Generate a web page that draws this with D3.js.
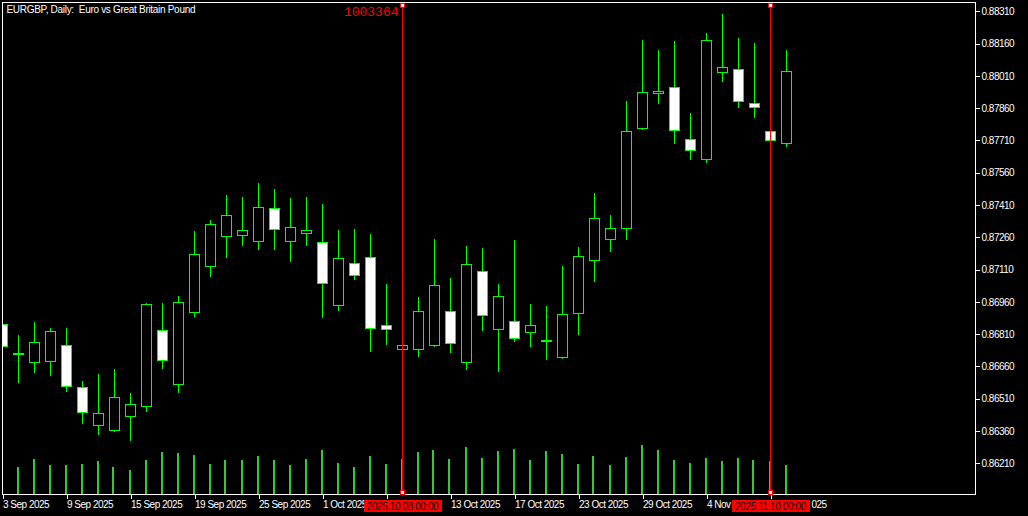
<!DOCTYPE html>
<html>
<head>
<meta charset="utf-8">
<script src="https://cdn.jsdelivr.net/npm/d3@7"></script>
<style>
  html, body { margin: 0; padding: 0; background: #000; }
  svg { display: block; }
  text { font-family: "Liberation Sans", Arial, sans-serif; }
</style>
</head>
<body>
<svg id="chart" width="1028" height="516"></svg>
<script>
// ---------- DATA ----------
const titleText = "EURGBP, Daily:  Euro vs Great Britain Pound";

const dates = [
  "2025.09.03","2025.09.04","2025.09.05","2025.09.08","2025.09.09","2025.09.10","2025.09.11","2025.09.12",
  "2025.09.15","2025.09.16","2025.09.17","2025.09.18","2025.09.19","2025.09.22","2025.09.23","2025.09.24",
  "2025.09.25","2025.09.26","2025.09.29","2025.09.30","2025.10.01","2025.10.02","2025.10.03","2025.10.06",
  "2025.10.07","2025.10.08","2025.10.09","2025.10.10","2025.10.13","2025.10.14","2025.10.15","2025.10.16",
  "2025.10.17","2025.10.20","2025.10.21","2025.10.22","2025.10.23","2025.10.24","2025.10.27","2025.10.28",
  "2025.10.29","2025.10.30","2025.10.31","2025.11.03","2025.11.04","2025.11.05","2025.11.06","2025.11.07",
  "2025.11.10","2025.11.11"
];

const opens  = [0.86856,0.86719,0.86678,0.86682,0.86758,0.86563,0.86387,0.86364,0.86429,0.86475,
                0.86828,0.86577,0.86912,0.87124,0.87263,0.87269,0.87242,0.87395,0.87242,0.87279,
                0.87237,0.86944,0.87139,0.87167,0.86851,0.86740,0.86740,0.86758,0.86916,0.86679,
                0.87102,0.86833,0.86870,0.86819,0.86782,0.86703,0.86907,0.87153,0.87251,0.87302,
                0.87767,0.87929,0.87957,0.87715,0.87623,0.88027,0.88041,0.87883,0.87753,0.87697];
const highs  = [0.86867,0.86806,0.86867,0.86839,0.86839,0.86591,0.86625,0.86648,0.86537,0.86954,
                0.86955,0.86987,0.87289,0.87341,0.87457,0.87447,0.87512,0.87485,0.87443,0.87447,
                0.87415,0.87294,0.87299,0.87276,0.87043,0.86760,0.86983,0.87251,0.87071,0.87220,
                0.87210,0.87043,0.87248,0.86950,0.86941,0.87127,0.87215,0.87466,0.87364,0.87893,
                0.88177,0.88130,0.88172,0.87838,0.88209,0.88298,0.88186,0.88163,0.87758,0.88130];
const lows   = [0.86741,0.86589,0.86636,0.86622,0.86547,0.86399,0.86348,0.86362,0.86320,0.86452,
                0.86654,0.86543,0.86896,0.87082,0.87170,0.87226,0.87207,0.87207,0.87151,0.87226,
                0.86891,0.86924,0.87068,0.86733,0.86766,0.86738,0.86710,0.86756,0.86729,0.86650,
                0.86831,0.86640,0.86780,0.86757,0.86696,0.86701,0.86812,0.87059,0.87198,0.87254,
                0.87765,0.87886,0.87700,0.87625,0.87611,0.87988,0.87867,0.87820,0.87705,0.87683];
const closes = [0.86754,0.86717,0.86772,0.86823,0.86568,0.86447,0.86442,0.86517,0.86484,0.86949,
                0.86689,0.86958,0.87181,0.87321,0.87362,0.87293,0.87400,0.87297,0.87307,0.87293,
                0.87046,0.87163,0.87084,0.86837,0.86833,0.86758,0.86916,0.87037,0.86768,0.87135,
                0.86898,0.86986,0.86791,0.86851,0.86782,0.86902,0.87172,0.87348,0.87302,0.87753,
                0.87934,0.87938,0.87755,0.87664,0.88175,0.88050,0.87892,0.87864,0.87711,0.88031];
const volumes = [30000,28000,36000,29000,30000,31000,33000,28000,25000,34000,
                 43000,42000,40000,31000,35000,35000,39000,34000,30000,36000,
                 45000,32000,28000,39000,31000,36000,43000,45000,36000,48000,
                 37000,44000,46000,34000,44000,41000,31000,39000,30000,38000,
                 50000,45000,35000,32000,37000,33000,37000,35000,33000,29000];

const priceTicks = [0.88310,0.88160,0.88010,0.87860,0.87710,0.87560,0.87410,0.87260,
                    0.87110,0.86960,0.86810,0.86660,0.86510,0.86360,0.86210];
const timeTickIdx = [0,4,8,12,16,20,24,28,32,36,40,44,48];
const timeTickLabels = ["3 Sep 2025","9 Sep 2025","15 Sep 2025","19 Sep 2025","25 Sep 2025",
                        "1 Oct 2025","7 Oct 2025","13 Oct 2025","17 Oct 2025","23 Oct 2025",
                        "29 Oct 2025","4 Nov 2025","10 Nov 2025"];
const markerIdx = [25, 48];
const markerLabels = ["2025.10.08 00:00","2025.11.10 00:00"];
const markerTopText = "1003364";

// ---------- LAYOUT ----------
const W = 1028, H = 516;
const frame = {left: 2.5, top: 2.5, right: 975.5, bottom: 494.5};
const svg = d3.select("#chart");
svg.append("rect").attr("width", W).attr("height", H).attr("fill", "#000");

const x = d3.scaleLinear().domain([0, 49]).range([2.5, 786.5]);
const y = d3.scaleLinear().domain([0.86210, 0.88310]).range([463.33, 11.33]);
const yVol = d3.scaleLinear().domain([0, 100000]).range([494.5, 394.5]);
const snap = v => Math.round(v - 0.5) + 0.5;

const candles = dates.map((d, i) => ({i, d, o: opens[i], h: highs[i], l: lows[i], c: closes[i], v: volumes[i]}));

const defs = svg.append("defs");
defs.append("clipPath").attr("id", "plotclip")
  .append("rect").attr("x", frame.left).attr("y", frame.top)
  .attr("width", frame.right - frame.left).attr("height", frame.bottom - frame.top);

const boxW = 78, boxY = 500, boxH = 12;
const boxXs = markerIdx.map(mi => Math.round(x(mi)) - boxW / 2);

const plot = svg.append("g").attr("clip-path", "url(#plotclip)").attr("shape-rendering", "crispEdges");

// volumes
plot.append("g").selectAll("rect").data(candles).join("rect")
  .attr("x", d => Math.round(x(d.i)) - 2)
  .attr("width", 2)
  .attr("y", d => Math.round(yVol(d.v)))
  .attr("height", d => Math.round(yVol(0)) - Math.round(yVol(d.v)))
  .attr("fill", "#32CD32");

// wicks
plot.append("g").selectAll("line").data(candles).join("line")
  .attr("x1", d => x(d.i)).attr("x2", d => x(d.i))
  .attr("y1", d => Math.round(y(d.h))).attr("y2", d => Math.round(y(d.l)) + 1)
  .attr("stroke", "#00FF00").attr("stroke-width", 1);

// bodies
plot.append("g").selectAll("rect").data(candles).join("rect")
  .attr("x", d => x(d.i) - 5)
  .attr("width", 10)
  .attr("y", d => snap(y(Math.max(d.o, d.c))))
  .attr("height", d => Math.max(1, snap(y(Math.min(d.o, d.c))) - snap(y(Math.max(d.o, d.c)))))
  .attr("fill", d => d.c < d.o ? "#FFFFFF" : "#000000")
  .attr("stroke", "#00FF00").attr("stroke-width", 1);

// frame
svg.append("rect")
  .attr("x", frame.left).attr("y", frame.top)
  .attr("width", frame.right - frame.left).attr("height", frame.bottom - frame.top)
  .attr("fill", "none").attr("stroke", "#FFFFFF").attr("stroke-width", 1)
  .attr("shape-rendering", "crispEdges");

// price axis
const yAxis = d3.axisRight(y).tickValues(priceTicks).tickFormat(d3.format(".5f"))
  .tickSize(4).tickPadding(2);
const ga = svg.append("g").attr("transform", `translate(${frame.right},0)`).call(yAxis);
ga.select(".domain").remove();
ga.selectAll(".tick line").attr("stroke", "#FFFFFF").attr("shape-rendering", "crispEdges");
ga.selectAll(".tick text").attr("fill", "#FFFFFF")
  .style("font-family", "'Liberation Sans', Arial, sans-serif")
  .style("font-size", "10px").style("letter-spacing", "-0.5px");

// time axis
const xAxis = d3.axisBottom(x).tickValues(timeTickIdx)
  .tickFormat((d, k) => timeTickLabels[k]).tickSize(4).tickPadding(2);
const gx = svg.append("g").attr("transform", `translate(0,${frame.bottom})`).call(xAxis);
gx.select(".domain").remove();
gx.selectAll(".tick line").attr("stroke", "#FFFFFF").attr("shape-rendering", "crispEdges");
gx.selectAll(".tick text").attr("fill", "#FFFFFF")
  .attr("text-anchor", "start").attr("x", 0).attr("dy", null).attr("y", 13.5)
  .style("font-family", "'Liberation Sans', Arial, sans-serif")
  .style("font-size", "10px").style("letter-spacing", "-0.5px");

// The red marker boxes cover parts of some date labels (as in the reference):
// keep only the characters that stay visible beside a box.
gx.selectAll(".tick").each(function(d) {
  const tx = x(d);
  const t = this.querySelector("text");
  const s = t.textContent;
  const n = t.getNumberOfChars();
  const vis = [];
  for (let c = 0; c < n; c++) {
    const a = tx + t.getStartPositionOfChar(c).x;
    const b = tx + t.getEndPositionOfChar(c).x;
    const mid = (a + b) / 2;
    const hidden = boxXs.some(bx => mid > bx && b < bx + boxW);
    vis.push(!hidden);
  }
  if (vis.every(v => v)) return;
  let first = vis.indexOf(true);
  if (first < 0) { t.textContent = ""; return; }
  let last = first;
  while (last + 1 < n && vis[last + 1]) last++;
  let startX = t.getStartPositionOfChar(first).x;
  if (first > 0) {
    // suffix after a box: start just right of the box
    boxXs.forEach(bx => {
      const endB = bx + boxW;
      if (tx + startX < endB && tx + startX > bx) startX = endB + 1 - tx;
    });
  }
  t.textContent = s.slice(first, last + 1);
  t.setAttribute("x", startX);
});

// title
svg.append("text").attr("x", 6.5).attr("y", 13)
  .attr("fill", "#FFFFFF")
  .style("font-size", "10px").style("letter-spacing", "-0.3px").style("white-space", "pre")
  .text(titleText);

// vertical markers
const mk = svg.append("g").attr("shape-rendering", "crispEdges");
markerIdx.forEach((mi, k) => {
  const mx = x(mi);
  mk.append("line").attr("x1", mx).attr("x2", mx).attr("y1", 5).attr("y2", 492)
    .attr("stroke", "#FF0000").attr("stroke-width", 1);
  mk.append("rect").attr("x", mx - 2).attr("y", 3.5).attr("width", 4).attr("height", 4)
    .attr("fill", "#FFFFFF").attr("stroke", "#FF0000");
  mk.append("rect").attr("x", mx - 2).attr("y", 490.5).attr("width", 4).attr("height", 4)
    .attr("fill", "#FFFFFF").attr("stroke", "#FF0000");
  mk.append("rect").attr("x", boxXs[k]).attr("y", boxY).attr("width", boxW).attr("height", boxH)
    .attr("fill", "#FF0000");
  svg.append("text").attr("x", mx).attr("y", 509.5).attr("text-anchor", "middle")
    .attr("fill", "#000000")
    .style("font-size", "10px").style("letter-spacing", "-0.4px")
    .text(markerLabels[k]);
});
svg.append("text").attr("x", x(markerIdx[0]) - 4).attr("y", 15.5).attr("text-anchor", "end")
  .attr("fill", "#FF0000")
  .style("font-family", "'Liberation Mono', 'DejaVu Sans Mono', monospace")
  .style("font-size", "13px")
  .text(markerTopText);
</script>
</body>
</html>
